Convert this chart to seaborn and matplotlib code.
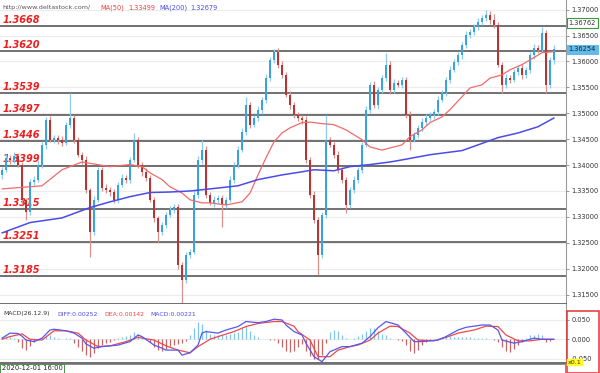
import matplotlib
matplotlib.use("Agg")
import matplotlib.pyplot as plt
import matplotlib.patches as mpatches
import matplotlib.transforms as mtransforms
import numpy as np
import seaborn as sns

# ---------------- data ----------------
closes = [
    1.3391, 1.3414, 1.3410, 1.3418, 1.3401, 1.3333, 1.3310, 1.3368, 1.3372, 1.3401,
    1.3439, 1.3487, 1.3449, 1.3453, 1.3449, 1.3443, 1.3478, 1.3491, 1.3449, 1.3420,
    1.3410, 1.3352, 1.3271, 1.3333, 1.3391, 1.3356, 1.3352, 1.3348, 1.3333, 1.3362,
    1.3375, 1.3372, 1.3410, 1.3449, 1.3401, 1.3387, 1.3375, 1.3333, 1.3298, 1.3271,
    1.3285, 1.3304, 1.3314, 1.3319, 1.3208, 1.3179, 1.3227, 1.3233, 1.3343, 1.3410,
    1.3430, 1.3343, 1.3327, 1.3333, 1.3337, 1.3323, 1.3333, 1.3372, 1.3401, 1.3430,
    1.3464, 1.3516, 1.3478, 1.3491, 1.3507, 1.3526, 1.3568, 1.3603, 1.3619, 1.3594,
    1.3574, 1.3536, 1.3516, 1.3497, 1.3491, 1.3487, 1.3410, 1.3343, 1.3294, 1.3227,
    1.3304, 1.3449, 1.3439, 1.3420, 1.3391, 1.3372, 1.3323, 1.3352, 1.3372, 1.3391,
    1.3439, 1.3507, 1.3555, 1.3516, 1.3545, 1.3568, 1.3594, 1.3545, 1.3559, 1.3555,
    1.3565, 1.3497, 1.3449, 1.3458, 1.3472, 1.3484, 1.3491, 1.3497, 1.3503, 1.3526,
    1.3539, 1.3565, 1.3584, 1.3599, 1.3613, 1.3632, 1.3651, 1.3657, 1.3667, 1.3677,
    1.3684, 1.3690, 1.3680, 1.3671, 1.3594, 1.3555, 1.3568, 1.3565, 1.3580, 1.3588,
    1.3574, 1.3584, 1.3613, 1.3626, 1.3623, 1.3655, 1.3555, 1.3603, 1.3625,
]
first_open = 1.3380

wick_up_pips = [
    6, 7, 5, 8, 6, 5, 4, 6, 7, 8,
    6, 5, 7, 6, 5, 8, 6, 48, 5, 6,
    6, 7, 4, 8, 6, 5, 7, 6, 5, 6,
    7, 5, 6, 13, 6, 5, 7, 5, 6, 4,
    6, 5, 7, 6, 5, 4, 6, 5, 8, 7,
    19, 6, 5, 7, 6, 5, 6, 7, 5, 6,
    7, 16, 6, 5, 7, 6, 8, 6, 6, 7,
    6, 5, 7, 6, 5, 6, 7, 5, 6, 5,
    6, 48, 6, 5, 7, 6, 5, 6, 7, 6,
    5, 7, 6, 8, 6, 5, 23, 6, 7, 5,
    6, 5, 7, 6, 5, 6, 7, 5, 6, 7,
    6, 5, 7, 6, 5, 6, 7, 5, 6, 7,
    6, 10, 8, 12, 6, 5, 7, 6, 5, 6,
    7, 6, 5, 7, 6, 12, 6, 5, 6,
]
wick_dn_pips = [
    6, 5, 7, 6, 5, 8, 16, 6, 7, 5,
    6, 7, 5, 6, 8, 6, 5, 7, 6, 5,
    7, 6, 48, 6, 5, 7, 6, 8, 6, 7,
    5, 6, 7, 5, 6, 8, 6, 5, 7, 19,
    6, 7, 5, 6, 8, 45, 6, 7, 5, 6,
    7, 6, 5, 8, 6, 42, 6, 5, 7, 6,
    5, 6, 7, 5, 6, 8, 6, 5, 6, 7,
    6, 5, 7, 6, 5, 8, 6, 7, 6, 39,
    7, 6, 5, 6, 7, 6, 15, 6, 5, 7,
    6, 5, 7, 6, 8, 5, 6, 7, 6, 5,
    7, 6, 19, 5, 6, 7, 6, 5, 8, 6,
    5, 6, 7, 5, 6, 8, 6, 5, 6, 7,
    6, 5, 7, 6, 5, 16, 6, 7, 5, 6,
    7, 5, 6, 8, 6, 5, 16, 6, 7,
]

ma50_idx = [0, 10, 15, 20, 27, 32, 35, 37, 40, 42, 45, 47, 50, 52, 56, 60, 62, 64, 66, 68,
            70, 72, 75, 77, 80, 83, 86, 90, 92, 95, 97, 100, 102, 105, 107, 110, 112, 115,
            117, 120, 122, 125, 127, 130, 132, 135, 138]
ma50_val = [1.3354, 1.3360, 1.3391, 1.3406, 1.3397, 1.3401, 1.3397, 1.3385, 1.3372, 1.3358,
            1.3346, 1.3333, 1.3327, 1.3327, 1.3323, 1.3329, 1.3346, 1.3381, 1.3414, 1.3445,
            1.3462, 1.3472, 1.3482, 1.3483, 1.3480, 1.3478, 1.3468, 1.3449, 1.3435, 1.3429,
            1.3433, 1.3439, 1.3455, 1.3468, 1.3482, 1.3493, 1.3507, 1.3532, 1.3549, 1.3555,
            1.3568, 1.3574, 1.3584, 1.3594, 1.3603, 1.3617, 1.3619]

ma200_idx = [0, 7, 15, 22, 27, 32, 37, 42, 47, 52, 59, 64, 70, 75, 78, 83, 87, 92, 97, 100,
             107, 115, 119, 124, 129, 134, 138]
ma200_val = [1.3269, 1.3289, 1.3298, 1.3318, 1.3329, 1.3339, 1.3347, 1.3348, 1.3350, 1.3354,
             1.3360, 1.3372, 1.3381, 1.3387, 1.3391, 1.3389, 1.3397, 1.3401, 1.3406, 1.3410,
             1.3420, 1.3428, 1.3439, 1.3453, 1.3462, 1.3474, 1.3491]

level_prices = [1.3668, 1.3620, 1.3539, 1.3497, 1.3446, 1.3399, 1.3315, 1.3251, 1.3185]
level_labels = ["1.3668", "1.3620", "1.3539", "1.3497", "1.3446", "1.3399", "1.3315", "1.3251", "1.3185"]

price_ticks = [1.370, 1.365, 1.360, 1.355, 1.350, 1.345, 1.340, 1.335, 1.330, 1.325, 1.320, 1.315]
price_tick_labels = ["1.37000", "1.36500", "1.36000", "1.35500", "1.35000", "1.34500",
                     "1.34000", "1.33500", "1.33000", "1.32500", "1.32000", "1.31500"]
marker_price_a, marker_label_a = 1.36762, "1.36762"
marker_price_b, marker_label_b = 1.36254, "1.36254"

diff_idx = [0, 2, 4, 5, 6, 8, 10, 12, 13, 16, 18, 20, 21, 23, 25, 29, 32, 34, 35, 38, 40, 41,
            44, 45, 47, 49, 50, 51, 54, 56, 59, 61, 64, 66, 68, 70, 71, 73, 75, 76, 78, 80,
            82, 85, 87, 90, 92, 94, 96, 99, 101, 103, 105, 109, 111, 114, 116, 120, 122, 124,
            125, 128, 130, 133, 135, 138]
diff_val = [0.003, 0.016, 0.015, 0.008, -0.002, -0.006, 0.003, 0.024, 0.026, 0.022, 0.016,
            0.003, -0.012, -0.023, -0.019, -0.015, -0.006, 0.011, 0.007, -0.015, -0.023,
            -0.028, -0.028, -0.041, -0.035, -0.015, 0.016, 0.020, 0.016, 0.024, 0.033, 0.046,
            0.043, 0.046, 0.052, 0.050, 0.037, 0.020, 0.011, -0.010, -0.045, -0.058, -0.032,
            -0.019, -0.019, -0.010, 0.007, 0.030, 0.046, 0.037, 0.016, -0.006, -0.006, -0.002,
            0.007, 0.024, 0.031, 0.037, 0.037, 0.024, -0.002, -0.010, -0.006, 0.003, 0.000,
            0.000]

dea_idx = [0, 2, 5, 7, 10, 13, 16, 19, 21, 24, 27, 31, 34, 38, 41, 44, 47, 49, 52, 54, 58,
           61, 64, 68, 70, 73, 74, 77, 79, 82, 84, 87, 89, 92, 94, 97, 99, 102, 104, 108, 111,
           114, 118, 121, 124, 126, 129, 132, 135, 138]
dea_val = [0.000, 0.007, 0.014, 0.000, -0.002, 0.022, 0.022, 0.016, -0.002, -0.019, -0.017,
           -0.006, 0.005, -0.002, -0.017, -0.028, -0.035, -0.019, 0.000, 0.007, 0.020, 0.033,
           0.041, 0.046, 0.046, 0.034, 0.020, -0.002, -0.045, -0.045, -0.028, -0.019, -0.015,
           -0.002, 0.016, 0.034, 0.033, 0.016, -0.002, -0.004, 0.005, 0.016, 0.024, 0.034,
           0.033, 0.011, -0.004, -0.004, 0.000, 0.000]

hist_val = [
    0.005, 0.008, 0.006, 0.004, -0.006, -0.022, -0.028, -0.018, -0.008, -0.003,
    0.004, 0.010, 0.012, 0.006, 0.003, 0.002, 0.004, 0.003, -0.010, -0.020,
    -0.030, -0.040, -0.046, -0.035, -0.022, -0.015, -0.010, -0.006, -0.002, 0.004,
    0.006, 0.008, 0.012, 0.020, 0.014, 0.006, 0.002, -0.008, -0.020, -0.028,
    -0.030, -0.024, -0.018, -0.014, -0.012, -0.010, -0.004, 0.010, 0.030, 0.045,
    0.040, 0.025, 0.015, 0.012, 0.012, 0.010, 0.012, 0.014, 0.016, 0.020,
    0.028, 0.035, 0.022, 0.012, 0.006, 0.002, 0.000, -0.002, -0.003, -0.010,
    -0.020, -0.030, -0.034, -0.030, -0.020, -0.012, -0.030, -0.042, -0.050, -0.052,
    -0.040, -0.010, 0.020, 0.025, 0.022, 0.012, 0.004, 0.002, 0.004, 0.008,
    0.015, 0.022, 0.028, 0.030, 0.022, 0.015, 0.010, 0.004, 0.002, -0.002,
    -0.004, -0.015, -0.030, -0.035, -0.028, -0.015, -0.006, -0.002, 0.002, 0.004,
    0.006, 0.008, 0.008, 0.007, 0.006, 0.006, 0.005, 0.005, 0.004, 0.004,
    0.003, 0.003, 0.002, -0.002, -0.008, -0.020, -0.030, -0.032, -0.025, -0.015,
    -0.006, 0.004, 0.010, 0.012, 0.014, 0.012, -0.006, -0.004, 0.002,
]
macd_ticks = [0.05, 0.0, -0.05]
macd_tick_labels = ["0.050", "0.000", "-0.050"]

header_site = "http://www.deltastock.com/"
ma50_name, ma50_last = "MA(50)", "1.33499"
ma200_name, ma200_last = "MA(200)", "1.32679"
macd_name = "MACD(26.12.9)"
diff_text, dea_text, macd_text = "DIFF:0.00252", "DEA:0.00142", "MACD:0.00221"
start_time = "2020-12-01 16:00"
scale_text = "x0.1"

# ---------------- style ----------------
sns.set_style("white")
plt.rcParams["font.family"] = ["DejaVu Sans"]

W, H = 600, 373
fig = plt.figure(figsize=(6.0, 3.73), dpi=100)
fig.patch.set_facecolor("white")


def rect(x0, y0, x1, y1):
    return [x0 / W, 1 - y1 / H, (x1 - x0) / W, (y1 - y0) / H]


def ftext(x, y, s, **kw):
    fig.text(x / W, 1 - y / H, s, **kw)


ax = fig.add_axes(rect(0, 0, 566, 304))
axm = fig.add_axes(rect(0, 304, 566, 363))

n = len(closes)
idx = np.arange(n)
c = np.array(closes)
o = np.array([first_open] + closes[:-1])
hi = np.maximum(o, c) + np.array(wick_up_pips) * 1e-4
lo = np.minimum(o, c) - np.array(wick_dn_pips) * 1e-4
up = c >= o

UP_BODY, DN_BODY = "#3aa3dc", "#b83434"
UP_WICK, DN_WICK = "#8fcbec", "#d99090"

# faint grid
for t in price_ticks:
    ax.axhline(t, color="#ececec", lw=0.8, zorder=0)
# level lines
for p in level_prices:
    ax.axhline(p, color="#4a4a4a", lw=1.1, zorder=1)

trans = mtransforms.blended_transform_factory(ax.transAxes, ax.transData)
for p, lab in zip(level_prices, level_labels):
    ax.text(0.005, p + 0.00025, lab, transform=trans, fontsize=7, color="#ee1f1f",
            fontweight="bold", style="italic", va="bottom", ha="left", zorder=2)

# candles
ax.vlines(idx[up], lo[up], hi[up], color=UP_WICK, lw=0.9, zorder=2.5)
ax.vlines(idx[~up], lo[~up], hi[~up], color=DN_WICK, lw=0.9, zorder=2.5)
body_h = np.maximum(np.abs(c - o), 0.00012)
body_b = np.minimum(o, c)
ax.bar(idx[up], body_h[up], bottom=body_b[up], width=0.55, color=UP_BODY, zorder=3, linewidth=0)
ax.bar(idx[~up], body_h[~up], bottom=body_b[~up], width=0.55, color=DN_BODY, zorder=3, linewidth=0)

# moving averages
sns.lineplot(x=ma50_idx, y=ma50_val, ax=ax, color="#f26a6a", lw=0.9, zorder=4)
sns.lineplot(x=ma200_idx, y=ma200_val, ax=ax, color="#4b4bea", lw=1.1, zorder=4)

ax.set_xlim(-0.5, 141)
ax.set_ylim(1.31318, 1.37187)
ax.set_xticks([])
ax.yaxis.tick_right()
ax.set_yticks(price_ticks)
ax.set_yticklabels(price_tick_labels)
ax.tick_params(axis="y", labelsize=4.8, length=2.5, width=0.6, color="#888888",
               labelcolor="#333333", pad=1.2, right=True, left=False)
ax.set_xlabel("")
ax.set_ylabel("")
for s in ["left", "top"]:
    ax.spines[s].set_visible(False)
ax.spines["right"].set_color("#9a9a9a")
ax.spines["right"].set_linewidth(0.8)
ax.spines["bottom"].set_color("#555555")
ax.spines["bottom"].set_linewidth(1.2)

# header
hy = 8
ftext(2, hy, header_site, fontsize=4.6, color="#555555", va="center")
ftext(100, hy, ma50_name, fontsize=4.8, color="#f04040", va="center")
ftext(128, hy, ma50_last, fontsize=4.8, color="#f04040", va="center")
ftext(159, hy, ma200_name, fontsize=4.8, color="#4b4bea", va="center")
ftext(190, hy, ma200_last, fontsize=4.8, color="#4b4bea", va="center")

# price marker boxes
ftext(568.5, 1 + (1.37187 - marker_price_a) * 5180, marker_label_a, fontsize=4.8, color="#333333",
      va="center", ha="left",
      bbox=dict(boxstyle="square,pad=0.25", fc="white", ec="#3a9a3a", lw=0.8))
ftext(568.5, 1 + (1.37187 - marker_price_b) * 5180, marker_label_b, fontsize=4.8, color="#222222",
      va="center", ha="left",
      bbox=dict(boxstyle="square,pad=0.25", fc="#62bbea", ec="#62bbea", lw=0.8))

# ---------------- MACD ----------------
for t in macd_ticks:
    axm.axhline(t, color="#ececec", lw=0.8, zorder=0)
hv = np.array(hist_val)
pos = hv >= 0
axm.vlines(idx[pos], 0, hv[pos], color="#7fc4ea", lw=0.9, zorder=2)
axm.vlines(idx[~pos], 0, hv[~pos], color="#c46666", lw=0.9, zorder=2)
sns.lineplot(x=dea_idx, y=dea_val, ax=axm, color="#f04848", lw=0.9, zorder=3)
sns.lineplot(x=diff_idx, y=diff_val, ax=axm, color="#5656f0", lw=0.9, zorder=3)
axm.set_xlim(-0.5, 141)
axm.set_ylim(-0.0614, 0.0914)
axm.set_xticks([])
axm.yaxis.tick_right()
axm.set_yticks(macd_ticks)
axm.set_yticklabels(macd_tick_labels)
axm.tick_params(axis="y", labelsize=4.8, length=2.5, width=0.6, color="#888888",
                labelcolor="#333333", pad=1.2, right=True, left=False)
axm.set_xlabel("")
axm.set_ylabel("")
for s in ["left", "top"]:
    axm.spines[s].set_visible(False)
axm.spines["right"].set_color("#9a9a9a")
axm.spines["right"].set_linewidth(0.8)
axm.spines["bottom"].set_color("#555555")
axm.spines["bottom"].set_linewidth(1.2)

my = 314
ftext(3, my, macd_name, fontsize=4.4, color="#333333", va="center")
ftext(57, my, diff_text, fontsize=4.4, color="#4b4bea", va="center")
ftext(104, my, dea_text, fontsize=4.4, color="#f04040", va="center")
ftext(150, my, macd_text, fontsize=4.4, color="#4b4bea", va="center")

# red frame around MACD scale
fig.patches.append(mpatches.Rectangle((566.5 / W, 1 - 372.5 / H), 32.5 / W, 61.5 / H,
                                      transform=fig.transFigure, fill=False,
                                      ec="#e83030", lw=1.1, zorder=5))
ftext(567.5, 362, scale_text, fontsize=4.6, color="#333333", va="center", ha="left",
      bbox=dict(boxstyle="square,pad=0.1", fc="#ffff20", ec="#ffff20"), zorder=6)

# bottom time strip
ftext(1.5, 368.3, start_time, fontsize=4.9, color="#222222", va="center", ha="left",
      bbox=dict(boxstyle="square,pad=0.2", fc="white", ec="#4c8c4c", lw=0.7))
fig.patches.append(mpatches.Rectangle((60 / W, 1 - 372.5 / H), 505 / W, 8.5 / H,
                                      transform=fig.transFigure, fill=False,
                                      ec="#8a8a8a", lw=0.7))

fig.savefig("out.png", dpi=100, facecolor="white")
